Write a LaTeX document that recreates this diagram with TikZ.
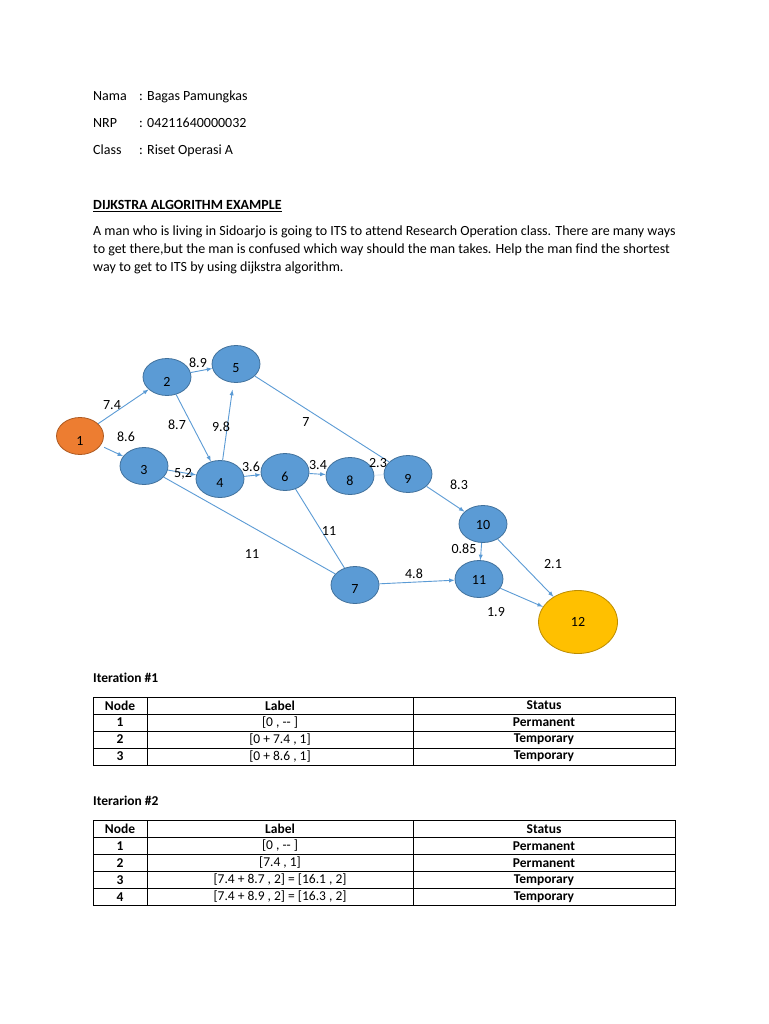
\documentclass[tikz,border=0pt]{standalone}
\usepackage{fontspec}
\setmainfont{Carlito}[Ligatures={TeX,NoCommon}]
\usetikzlibrary{shapes.geometric}
\definecolor{bubfill}{HTML}{5B9BD5}
\definecolor{bubline}{HTML}{41719C}
\definecolor{startfill}{HTML}{ED7D31}
\definecolor{startline}{HTML}{AE5A21}
\definecolor{goalfill}{HTML}{FFC000}
\definecolor{goalline}{HTML}{BC8C00}
\definecolor{edgeblue}{HTML}{5B9BD5}

\begin{document}
\begin{tikzpicture}[x=1pt, y=-1pt,
    every node/.style={font=\fontsize{14}{18}\selectfont, inner sep=0pt},
    bub/.style={ellipse, draw=bubline, fill=bubfill, line width=0.8pt, minimum width=48, minimum height=37},
    num/.style={yshift=-4.5pt},
    edge/.style={draw=edgeblue, line width=0.9pt},
    cell/.style={font=\fontsize{13.5}{16}\selectfont},
    bcell/.style={font=\fontsize{13.5}{16}\selectfont\bfseries}]
\useasboundingbox (0,0) rectangle (768,1024);
\fill[white] (0,0) rectangle (768,1024);

% header
\node[anchor=base west] (nama) at (93,100.5) {Nama};
\node[anchor=base west] (namav) at (139,100.5) {: Bagas Pamungkas};
\node[anchor=base west] (nrp) at (93,127.5) {NRP};
\node[anchor=base west] (nrpv) at (139,127.5) {: 04211640000032};
\node[anchor=base west] (cls) at (93,154.5) {Class};
\node[anchor=base west] (clsv) at (139,154.5) {: Riset Operasi A};
\node[anchor=base west] (title) at (93,209.5) {\textbf{\underline{DIJKSTRA ALGORITHM EXAMPLE}}};
\node[anchor=base west] (par1) at (93,235.5) {A man who is living in Sidoarjo is going to ITS to attend Research Operation class. There are many ways};
\node[anchor=base west] (par2) at (93,253.5) {to get there,but the man is confused which way should the man takes. Help the man  find the shortest};
\node[anchor=base west] (par3) at (93,271.5) {way to get to ITS by using dijkstra algorithm.};

% graph
\node[bub, draw=startline, fill=startfill, minimum width=47, label={[num]center:1}] (n1) at (80,436) {};
\node[bub, label={[num]center:2}] (n2) at (167,377) {};
\node[bub, label={[num]center:3}] (n3) at (144,466) {};
\node[bub, label={[num]center:4}] (n4) at (220,479) {};
\node[bub, label={[num]center:5}] (n5) at (236,364) {};
\node[bub, label={[num]center:6}] (n6) at (285,472) {};
\node[bub, label={[num]center:7}] (n7) at (355,585) {};
\node[bub, label={[num]center:8}] (n8) at (350,476) {};
\node[bub, label={[num]center:9}] (n9) at (408,474) {};
\node[bub, label={[yshift=-1pt]center:10}] (n10) at (483,524) {};
\node[bub, label={[yshift=-1pt]center:11}] (n11) at (479,579) {};
\node[bub, draw=goalline, fill=goalfill, minimum width=79, minimum height=63, label={center:12}] (n12) at (578,622) {};

\draw[edge, -latex] (n1) -- (n2);
\draw[edge, -latex, shorten <=4pt] (n1) -- (n3);
\draw[edge, -latex] (n2) -- (n5);
\draw[edge, -latex] (n2) -- (n4);
\draw[edge, -latex, shorten >=7pt] (n4) -- (n5);
\draw[edge, -latex] (n3) -- (n4);
\draw[edge] (n3) -- (n7);
\draw[edge, -latex] (n4) -- (n6);
\draw[edge, -latex] (n6) -- (n8);
\draw[edge, draw=edgeblue!35, line width=0.6pt] (n8) -- (n9);
\draw[edge] (n5) -- (n9);
\draw[edge] (n6) -- (n7);
\draw[edge, -latex] (n9) -- (n10);
\draw[edge, -latex] (n10) -- (n11);
\draw[edge, -latex] (n10) -- (n12);
\draw[edge, -latex] (n7) -- (n11);
\draw[edge, -latex] (n11) -- (n12);

\node (w12) at (112,405) {7.4};
\node (w13) at (126,437) {8.6};
\node (w25) at (198,363) {8.9};
\node (w24) at (177,425) {8.7};
\node (w45) at (221,427) {9.8};
\node (w59) at (306,422) {7};
\node (w34) at (183,474) {5,2};
\node (w46) at (251,467) {3.6};
\node (w68) at (318,465) {3.4};
\node (w89) at (378,463) {2.3};
\node (w67) at (329,531) {11};
\node (w37) at (252,554) {11};
\node (w711) at (414,574) {4.8};
\node (w910) at (459,485) {8.3};
\node (w1011) at (464,549) {0.85};
\node (w1012) at (553,564) {2.1};
\node (w1112) at (496,612) {1.9};

% iteration 1
\node[anchor=base west, bcell] (it1) at (93,682.5) {Iteration \#1};
\draw[line width=0.8pt] (93,697) rectangle (675,765);
\foreach \y in {714,731,748} \draw[line width=0.8pt] (93,\y) -- (675,\y);
\draw[line width=0.8pt] (147.5,697) -- (147.5,765) (413,697) -- (413,765);
\node[bcell] (t1h1) at (120,705.5) {Node};
\node[bcell] (t1h2) at (280,705.5) {Label};
\node[bcell] (t1h3) at (544,705.5) {Status};
\foreach \n/\lab/\st [count=\r] in {1/{[0 , {-}{-} ]}/Permanent, 2/{[0 + 7.4 , 1]}/Temporary, 3/{[0 + 8.6 , 1]}/Temporary} {
  \node[bcell] (t1n\r) at (120,{705.5+17*\r}) {\n};
  \node[cell] (t1l\r) at (280,{705.5+17*\r}) {\lab};
  \node[bcell] (t1s\r) at (544,{705.5+17*\r}) {\st};
}

% iteration 2
\node[anchor=base west, bcell] (it2) at (93,805.5) {Iterarion \#2};
\draw[line width=0.8pt] (93,820.5) rectangle (675,905.5);
\foreach \y in {837.5,854.5,871.5,888.5} \draw[line width=0.8pt] (93,\y) -- (675,\y);
\draw[line width=0.8pt] (147.5,820.5) -- (147.5,905.5) (413,820.5) -- (413,905.5);
\node[bcell] (t2h1) at (120,829) {Node};
\node[bcell] (t2h2) at (280,829) {Label};
\node[bcell] (t2h3) at (544,829) {Status};
\foreach \n/\lab/\st [count=\r] in {1/{[0 , {-}{-} ]}/Permanent, 2/{[7.4 , 1]}/Permanent, 3/{[7.4 + 8.7 , 2] = [16.1 , 2]}/Temporary, 4/{[7.4 + 8.9 , 2] = [16.3 , 2]}/Temporary} {
  \node[bcell] (t2n\r) at (120,{829+17*\r}) {\n};
  \node[cell] (t2l\r) at (280,{829+17*\r}) {\lab};
  \node[bcell] (t2s\r) at (544,{829+17*\r}) {\st};
}
\end{tikzpicture}
\end{document}
